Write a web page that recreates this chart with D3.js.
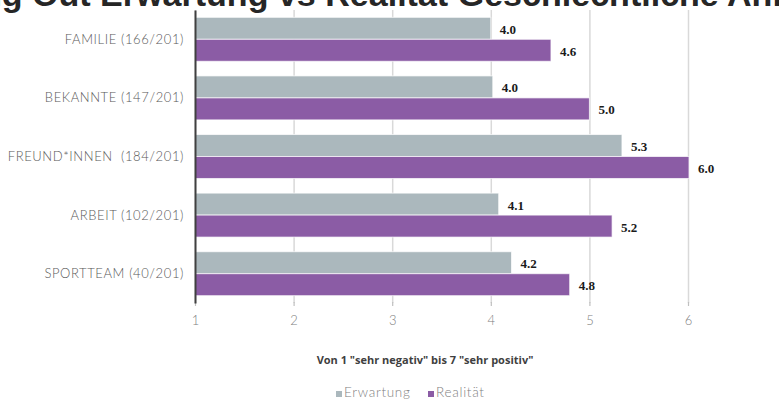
<!DOCTYPE html>
<html>
<head>
<meta charset="utf-8">
<script src="https://cdn.jsdelivr.net/npm/d3@7"></script>
<style>
  body { margin: 0; background: #ffffff; }
  svg { display: block; }
</style>
</head>
<body>
<svg id="chart" width="779" height="403"></svg>
<script>
// ---- data ----
const titleText = "Coming Out Erwartung vs Realität Geschlechtliche Annahme";
const categories = ["FAMILIE (166/201)", "BEKANNTE (147/201)", "FREUND*INNEN  (184/201)", "ARBEIT (102/201)", "SPORTTEAM (40/201)"];
const seriesNames = ["Erwartung", "Realität"];
const erwartung = [4.00, 4.02, 5.33, 4.08, 4.21];
const realitaet = [4.61, 5.00, 6.01, 5.23, 4.80];
const xTicks = [1, 2, 3, 4, 5, 6];
const axisTitle = 'Von 1 "sehr negativ" bis 7 "sehr positiv"';
const colors = ["#abb8bd", "#8b5ca5"];

const svg = d3.select("#chart");

// ---- scales ----
const x = d3.scaleLinear().domain([1, 7]).range([195, 786.6]);
const y = d3.scaleBand().domain(categories).range([10, 303]).paddingInner(0.25).paddingOuter(0.125);
const ySub = d3.scaleBand().domain(seriesNames).range([0, y.bandwidth()]).padding(0);

// ---- title (cropped at top like reference) ----
const title = svg.append("text")
  .attr("font-family", "Liberation Sans, Arial, sans-serif")
  .attr("font-weight", "bold")
  .attr("font-size", 26)
  .attr("fill", "#262626")
  .attr("y", 6)
  .text(titleText);
(function fitTitle() {
  const node = title.node();
  const iO = titleText.indexOf("Out");
  const iA = titleText.lastIndexOf("A");
  let s = 26;
  for (let k = 0; k < 3; k++) {
    title.attr("font-size", s);
    const w = node.getSubStringLength(iO, iA - iO);
    s = s * 695 / w;
  }
  title.attr("font-size", s);
  const pre = node.getSubStringLength(0, iO);
  title.attr("x", 32 - pre);
})();

// ---- gridlines ----
const gridG = svg.append("g").attr("transform", "translate(0,303)")
  .call(d3.axisBottom(x).tickValues(xTicks).tickSize(-293).tickFormat(""));
gridG.select(".domain").remove();
gridG.selectAll(".tick line").attr("stroke", "#d9d9d9").attr("stroke-width", 1.5);

// ---- axis ticks + labels ----
const axG = svg.append("g").attr("transform", "translate(0,302)")
  .call(d3.axisBottom(x).tickValues(xTicks).tickSize(4).tickPadding(10).tickFormat(d3.format("d")));
axG.select(".domain").remove();
axG.selectAll(".tick line").attr("stroke", "#bfbfbf").attr("stroke-width", 1.2);
axG.selectAll(".tick text")
  .attr("font-family", "Lato, 'Open Sans', sans-serif")
  .attr("font-weight", 300)
  .attr("font-size", 13)
  .attr("fill", "#808080");

// ---- bars ----
const rows = categories.map((c, i) => ({ cat: c, vals: [erwartung[i], realitaet[i]] }));
const groups = svg.append("g").selectAll("g").data(rows).join("g")
  .attr("transform", d => `translate(0,${y(d.cat)})`);

groups.selectAll("rect").data(d => d.vals.map((v, j) => ({ v, s: seriesNames[j], j })))
  .join("rect")
  .attr("x", x(1))
  .attr("y", d => ySub(d.s))
  .attr("width", d => x(d.v) - x(1))
  .attr("height", ySub.bandwidth())
  .attr("fill", d => colors[d.j])
  .attr("stroke", "#ffffff")
  .attr("stroke-opacity", 0.7)
  .attr("stroke-width", 1);

groups.selectAll("text.val").data(d => d.vals.map((v, j) => ({ v, s: seriesNames[j], j })))
  .join("text")
  .attr("class", "val")
  .attr("x", d => x(d.v) + 9)
  .attr("y", d => ySub(d.s) + ySub.bandwidth() / 2 + 5.5)
  .attr("font-family", "Liberation Serif, 'Times New Roman', serif")
  .attr("font-weight", "bold")
  .attr("font-size", 13)
  .attr("fill", "#1a1a1a")
  .text(d => d3.format(".1f")(d.v));

// ---- y axis ----
const yAx = svg.append("g").attr("transform", `translate(${x(1)},0)`)
  .call(d3.axisLeft(y).tickSize(0).tickPadding(11));
yAx.select(".domain").attr("stroke", "#404040").attr("stroke-width", 2);
yAx.selectAll(".tick text")
  .attr("font-family", "Lato, 'Open Sans', sans-serif")
  .attr("font-weight", 300)
  .attr("font-size", 13)
  .attr("letter-spacing", 0.6)
  .attr("fill", "#595959")
  .attr("dy", "0.35em")
  .style("white-space", "pre")
  .attr("xml:space", "preserve");

// ---- axis title ----
svg.append("text")
  .attr("x", 425).attr("y", 364)
  .attr("text-anchor", "middle")
  .attr("font-family", "'Open Sans', 'Noto Sans', sans-serif")
  .attr("font-weight", "bold")
  .attr("font-size", 11)
  .attr("fill", "#404040")
  .text(axisTitle);

// ---- legend ----
const legendX = [336, 428];
const lg = svg.append("g").selectAll("g").data(seriesNames).join("g")
  .attr("transform", (d, i) => `translate(${legendX[i]},397)`);
lg.append("rect").attr("x", 0).attr("y", -6).attr("width", 6).attr("height", 6)
  .attr("fill", (d, i) => colors[i]);
lg.append("text").attr("x", 8).attr("y", 0)
  .attr("font-family", "Lato, 'Open Sans', sans-serif")
  .attr("font-weight", 300)
  .attr("font-size", 13.5)
  .attr("fill", "#7f7f7f")
  .attr("letter-spacing", 0.7)
  .text(d => d);
</script>
</body>
</html>
